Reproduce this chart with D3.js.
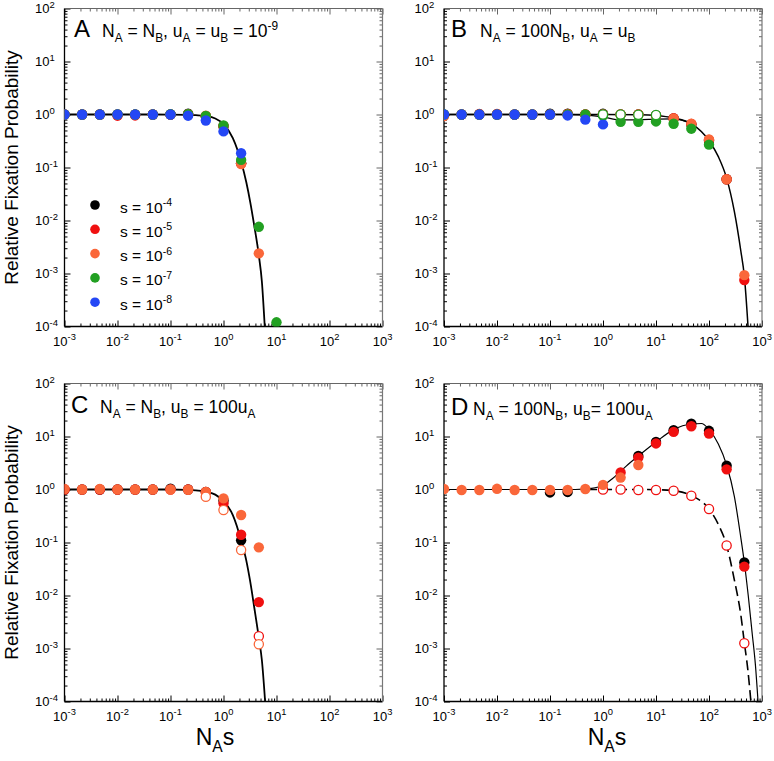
<!DOCTYPE html>
<html><head><meta charset="utf-8">
<script src="https://cdn.jsdelivr.net/npm/d3@7"></script>
<style>body{margin:0;background:#fff} svg{display:block} text{font-family:"Liberation Sans",Arial,sans-serif;fill:#000}</style>
</head><body>
<svg id="c" width="774" height="761"></svg>
<script>
// ---------- data ----------
const xVals = [0.001, 0.00215, 0.00464, 0.01, 0.0215, 0.0464, 0.1, 0.215, 0.464, 1, 2.15, 4.64, 10, 21.5, 46.4, 100, 215, 464];
const xTickExp = ["-3","-2","-1","0","1","2","3"];
const yTickExp = ["-4","-3","-2","-1","0","1","2"];
const legendLabels = ["-4","-5","-6","-7","-8"];

// Panel A
const aBlack  = [1,1,1,1,1,1,1,1.04,0.93,0.6,0.12,null,null];
const aRed    = [1,1,1,0.95,0.96,1,1,1.01,0.93,0.6,0.12,null,null];
const aOrange = [1,1,1,1,1,1,1,1,0.95,0.61,0.116,0.0024,null];
const aGreen  = [1,1,1,1,1,1,1.01,1.01,0.94,0.62,0.139,0.0076,0.00012];
const aBlue   = [1,1,1,1,1,1,1,0.95,0.77,0.48,0.186,null,null];
const aCurve  = [[0.001,1],[0.05,1],[0.1,0.997],[0.2,0.985],[0.3,0.97],[0.5,0.93],[0.7,0.84],[1,0.66],[1.5,0.36],[2.15,0.13],[2.7,0.052],[3.2,0.022],[3.8,0.008],[4.64,0.0022],[5.3,0.0007],[6.0,0.0001]];

// Panel B
const bBlack  = [1,1,1,1,1,1,1.04,1.04,1,1.03,1,1,0.97,0.84,0.65,0.32,0.06,null];
const bRed    = [0.98,1,1.02,1.02,1,1,1,1.02,1,1,1,1,0.95,0.85,0.66,0.33,0.06,0.00075];
const bOrange = [0.93,1,1,1,1,1,1,1,1,1,1,1,0.96,0.84,0.67,0.34,0.06,0.00093];
const bGreen  = [1,1,1,1,1,1,1,1,1,0.95,0.73,0.73,0.74,0.67,0.54,0.27,null,null];
const bBlue   = [1,1,1,1,1,1,1,0.96,0.8,0.65,null,null,null,null,null,null,null,null];
const bOpenGreen = [null,null,null,null,null,null,null,null,null,1.0,1.0,0.99,0.98,null,null,null,null,null];
const bCurve  = [[0.001,1],[1,1],[5,0.99],[10,0.96],[21.5,0.86],[46.4,0.67],[100,0.32],[150,0.16],[215,0.063],[300,0.015],[400,0.0026],[464,0.0009],[545,0.0001]];
const bCurve2 = [[0.001,1],[0.2,1],[0.5,0.97],[1,0.9],[2.15,0.79],[4.64,0.79],[10,0.82],[21.5,0.83],[35,0.75],[46.4,0.67]];

// Panel C
const cBlack  = [1,1,1,1,1,1,1.04,1,0.9,0.62,0.11,null];
const cRed    = [1,1,1,1,1,1,1,1,0.9,0.55,0.14,0.0075];
const cOrange = [1.02,1,1.02,1,1,1,1,0.99,0.9,0.68,0.33,0.081];
const cOpenRed    = [null,null,null,null,null,null,null,null,null,null,null,0.0017];
const cOpenOrange = [null,null,null,null,null,null,null,null,0.73,0.41,0.072,0.0012];
const cCurve  = [[0.001,1],[0.1,1],[0.2,0.985],[0.3,0.96],[0.5,0.9],[0.7,0.8],[1,0.6],[1.5,0.33],[2.15,0.11],[2.7,0.045],[3.2,0.018],[3.8,0.006],[4.64,0.0016],[5.3,0.0006],[6.1,0.0001]];

// Panel D
const dBlack  = [null,null,null,null,null,null,0.88,0.9,null,null,null,4.3,7.9,13.1,17.5,12.8,2.8,0.042];
const dRed    = [null,null,null,null,null,null,null,null,null,null,2.1,4.0,7.4,12.2,15.6,11.4,2.4,0.035];
const dOrange = [1.02,0.98,0.98,1.03,0.98,0.98,0.98,0.98,1.02,1.22,1.68,2.9,null,null,null,null,null,null];
const dOpenRed = [null,null,null,null,null,null,null,null,null,1.0,1.0,0.98,0.98,0.95,0.76,0.43,0.088,0.00126];
const dCurve  = [[0.001,1],[0.3,1],[0.6,1.05],[1,1.2],[1.5,1.6],[2.15,2.2],[3,3.0],[4.64,4.3],[10,7.9],[21.5,13.5],[46.4,17.2],[72,17.6],[100,13.5],[150,7.2],[215,2.9],[300,0.75],[400,0.12],[464,0.042],[550,0.01],[650,0.002],[750,0.0005],[842,0.0001]];
const dDashed = [[0.5,1],[5,1],[10,0.99],[21.5,0.95],[46.4,0.77],[100,0.43],[150,0.22],[215,0.088],[300,0.02],[400,0.0042],[464,0.0013],[540,0.0004],[617,0.0001]];

const COL = {black:"#000000", red:"#f01010", orange:"#fa673a", green:"#22a022", blue:"#2447f5"};

const panels = [
  {id:"A", left:64.5, top:8.5, title:[["N","n"],["A","sub"],[" = N","n"],["B","sub"],[", u","n"],["A","sub"],[" = u","n"],["B","sub"],[" = 10","n"],["-9","sup"]],
   lx:74, tx:102, ty:37,
   curves:[{d:aCurve,w:1.8}],
   series:[{v:aBlack,c:"black"},{v:aRed,c:"red"},{v:aOrange,c:"orange"},{v:aGreen,c:"green"},{v:aBlue,c:"blue"}], legend:true},
  {id:"B", left:444, top:8.5, title:[["N","n"],["A","sub"],[" = 100N","n"],["B","sub"],[", u","n"],["A","sub"],[" = u","n"],["B","sub"]],
   lx:451, tx:480, ty:37,
   curves:[{d:bCurve2,w:1.3},{d:bCurve,w:1.5}],
   series:[{v:bBlack,c:"black"},{v:bRed,c:"red"},{v:bOrange,c:"orange"},{v:bGreen,c:"green"},{v:bBlue,c:"blue"},{v:bOpenGreen,c:"green",open:true}]},
  {id:"C", left:64.5, top:383.5, title:[["N","n"],["A","sub"],[" = N","n"],["B","sub"],[", u","n"],["B","sub"],[" = 100u","n"],["A","sub"]],
   lx:71, tx:100, ty:413,
   curves:[{d:cCurve,w:1.8}],
   series:[{v:cBlack,c:"black"},{v:cRed,c:"red"},{v:cOpenRed,c:"red",open:true},{v:cOrange,c:"orange"},{v:cOpenOrange,c:"orange",open:true}]},
  {id:"D", left:444, top:383.5, title:[["N","n"],["A","sub"],[" = 100N","n"],["B","sub"],[", u","n"],["B","sub"],["= 100u","n"],["A","sub"]],
   lx:451, tx:473, ty:415,
   curves:[{d:dCurve,w:1.2},{d:dDashed,w:1.6,dash:"10,5"}],
   series:[{v:dBlack,c:"black"},{v:dRed,c:"red"},{v:dOpenRed,c:"red",open:true},{v:dOrange,c:"orange"}]}
];

const W = 318, H = 318;
const svg = d3.select("#c");

function richText(g, x, y, segs, size, anchor, subSize) {
  const t = g.append("text").attr("x", x).attr("y", y).attr("font-size", size);
  if (anchor) t.attr("text-anchor", anchor);
  let cur = 0;
  segs.forEach(([s, k]) => {
    const target = k === "sub" ? size*0.3 : (k === "sup" ? -size*0.42 : 0);
    t.append("tspan").attr("dy", target - cur).attr("font-size", k === "n" ? size : size*(subSize || 0.68)).text(s);
    cur = target;
  });
  return t;
}

panels.forEach((p, pi) => {
  const g = svg.append("g").attr("transform", `translate(${p.left},${p.top})`);
  const x = d3.scaleLog().domain([1e-3, 1e3]).range([0, W]);
  const y = d3.scaleLog().domain([1e-4, 1e2]).range([H, 0]);
  const major = [1e-3,1e-2,1e-1,1,1e1,1e2,1e3];
  const majorY = [1e-4,1e-3,1e-2,1e-1,1,1e1,1e2];
  const minorX = x.ticks().filter(v => !major.some(m => Math.abs(m - v)/m < 1e-6));
  const minorY = y.ticks().filter(v => !majorY.some(m => Math.abs(m - v)/m < 1e-6));

  const clipId = "clip" + pi;
  g.append("clipPath").attr("id", clipId).append("rect").attr("width", W).attr("height", H);

  const mk = (axis, tr, vals, size, col) => {
    const a = g.append("g").attr("transform", tr).call(axis.tickValues(vals).tickSize(size).tickFormat(""));
    a.select(".domain").remove();
    a.selectAll("line").attr("stroke", col).attr("stroke-width", 1);
  };
  mk(d3.axisBottom(x), `translate(0,${H})`, major, -6, "#000");
  mk(d3.axisBottom(x), `translate(0,${H})`, minorX, -3, "#000");
  mk(d3.axisTop(x), `translate(0,0)`, major, -6, "#666");
  mk(d3.axisTop(x), `translate(0,0)`, minorX, -3, "#666");
  mk(d3.axisLeft(y), `translate(0,0)`, majorY, -6, "#000");
  mk(d3.axisLeft(y), `translate(0,0)`, minorY, -3, "#000");
  mk(d3.axisRight(y), `translate(${W},0)`, majorY, -6, "#666");
  mk(d3.axisRight(y), `translate(${W},0)`, minorY, -3, "#666");

  g.append("line").attr("x1",0).attr("x2",W).attr("y1",H).attr("y2",H).attr("stroke","#000").attr("stroke-width",1.3);
  g.append("line").attr("x1",0).attr("x2",0).attr("y1",0).attr("y2",H).attr("stroke","#000").attr("stroke-width",1.3);
  g.append("line").attr("x1",0).attr("x2",W).attr("y1",0).attr("y2",0).attr("stroke","#666").attr("stroke-width",1.2);
  g.append("line").attr("x1",W).attr("x2",W).attr("y1",0).attr("y2",H).attr("stroke","#777").attr("stroke-width",1.2);

  major.forEach((v, i) => {
    richText(g, x(v), H + 19, [["10","n"],[xTickExp[i],"sup"]], 13, "middle", 0.72);
  });
  majorY.forEach((v, i) => {
    g.append("text").attr("x", -15).attr("y", y(v) + 4.5).attr("font-size", 13).attr("text-anchor", "end").text("10");
    g.append("text").attr("x", -15).attr("y", y(v) - 0.5).attr("font-size", 9.5).text(yTickExp[i]);
  });

  const line = d3.line().x(d => x(d[0])).y(d => y(d[1])).curve(d3.curveMonotoneX);
  const cg = g.append("g").attr("clip-path", `url(#${clipId})`);
  p.curves.forEach(c => {
    cg.append("path").attr("d", line(c.d)).attr("fill", "none").attr("stroke", "#000")
      .attr("stroke-width", c.w).attr("stroke-dasharray", c.dash || null);
  });

  p.series.forEach(s => {
    const pts = s.v.map((v, i) => [xVals[i], v]).filter(d => d[1] != null);
    cg.selectAll(null).data(pts).enter().append("circle")
      .attr("cx", d => x(d[0])).attr("cy", d => y(d[1]))
      .attr("r", s.open ? 4.6 : 5.2)
      .attr("fill", s.open ? "#fff" : COL[s.c])
      .attr("stroke", s.open ? COL[s.c] : "none")
      .attr("stroke-width", s.open ? 1.3 : 0);
  });

  g.append("text").attr("x", p.lx - p.left).attr("y", p.ty - p.top).attr("font-size", 24).text(p.id);
  richText(g, p.tx - p.left, p.ty - p.top, p.title, 17.5);

  if (p.legend) {
    const keys = ["black","red","orange","green","blue"];
    keys.forEach((k, i) => {
      const ly = 196.5 + i * 24.3;
      g.append("circle").attr("cx", 30.5).attr("cy", ly).attr("r", 4.8).attr("fill", COL[k]);
      richText(g, 55.5, ly + 7.5, [["s = 10","n"],[legendLabels[i],"sup"]], 15.5);
    });
  }
});

[[18, 167.5],[18, 542.5]].forEach(([cx, cy]) => {
  svg.append("text").attr("transform", `translate(${cx},${cy}) rotate(-90)`)
    .attr("text-anchor", "middle").attr("font-size", 19).text("Relative Fixation Probability");
});
[[215, 745],[607, 745]].forEach(([cx, cy]) => {
  richText(svg, cx, cy, [["N","n"],["A","sub"],["s","n"]], 23, "middle");
});
</script>
</body></html>
